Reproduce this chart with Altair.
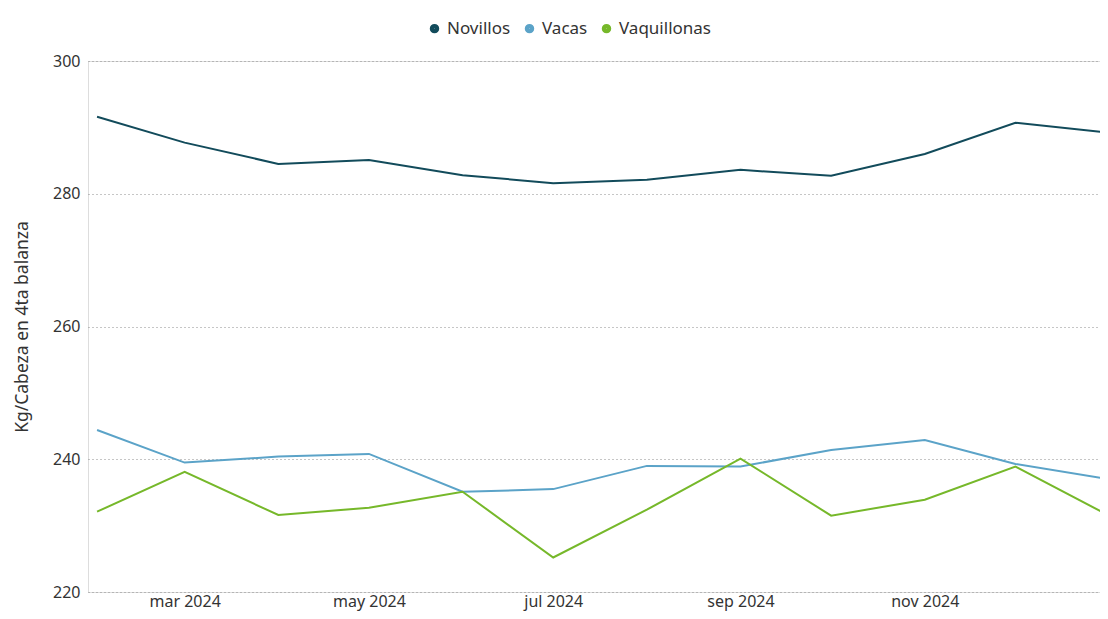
import altair as alt
import pandas as pd

months = ["2024-02-01", "2024-03-01", "2024-04-01", "2024-05-01", "2024-06-01", "2024-07-01",
          "2024-08-01", "2024-09-01", "2024-10-01", "2024-11-01", "2024-12-01", "2025-01-01"]
novillos = [291.6, 287.7, 284.5, 285.1, 282.8, 281.6, 282.1, 283.6, 282.7, 286.0, 290.7, 289.2]
vacas = [244.4, 239.5, 240.4, 240.8, 235.1, 235.5, 239.0, 238.9, 241.4, 242.9, 239.3, 237.0]
vaquillonas = [232.1, 238.1, 231.6, 232.7, 235.1, 225.2, 232.4, 240.1, 231.5, 233.9, 238.9, 231.5]
series = ["Novillos", "Vacas", "Vaquillonas"]
colors = ["#124B5B", "#5BA3C8", "#76B82A"]
tick_months = ["2024-03-01", "2024-05-01", "2024-07-01", "2024-09-01", "2024-11-01"]

rows = []
for name, vals in zip(series, [novillos, vacas, vaquillonas]):
    for m, v in zip(months, vals):
        rows.append({"mes": m, "serie": name, "valor": v})
df = pd.DataFrame(rows)

font = "Noto Sans"
tick_vals = [alt.DateTime(year=int(t[:4]), month=int(t[5:7]), date=1) for t in tick_months]

chart = alt.Chart(df).mark_line(strokeWidth=2, clip=True).encode(
    x=alt.X("mes:T",
            scale=alt.Scale(domain=[alt.DateTime(year=2024, month=1, date=29),
                                    alt.DateTime(year=2024, month=12, date=29)]),
            axis=alt.Axis(title=None, values=tick_vals, grid=False, domain=False, ticks=False,
                          labelExpr="lower(timeFormat(datum.value, '%b %Y'))",
                          labelFont=font, labelFontSize=16, labelColor="#333333",
                          labelPadding=1, labelOverlap=False)),
    y=alt.Y("valor:Q",
            scale=alt.Scale(domain=[220, 300], nice=False, zero=False),
            axis=alt.Axis(title="Kg/Cabeza en 4ta balanza", values=[220, 240, 260, 280, 300],
                          grid=True, gridDash=[1, 3], gridColor="#8c8c8c", gridWidth=1,
                          domain=False, ticks=False,
                          labelFont=font, labelFontSize=16, labelColor="#333333", labelPadding=8,
                          titleFont=font, titleFontSize=17.5, titleFontWeight="normal",
                          titleColor="#333333", titlePadding=21)),
    color=alt.Color("serie:N",
                    scale=alt.Scale(domain=series, range=colors),
                    legend=alt.Legend(title=None, orient="none", direction="horizontal",
                                      legendX=338, legendY=-41,
                                      symbolType="circle", symbolSize=20, symbolStrokeWidth=5,
                                      labelFont=font, labelFontSize=17, labelColor="#333333",
                                      columnPadding=6, symbolOffset=0, labelOffset=4)),
).properties(
    width=1012, height=531,
    autosize=alt.AutoSizeParams(type="none"),
    padding={"left": 80, "top": 53, "right": 0, "bottom": 19},
).configure_view(stroke=None).configure(background="white")

chart.save("out.html", embed_options={"renderer": "svg", "actions": False})
